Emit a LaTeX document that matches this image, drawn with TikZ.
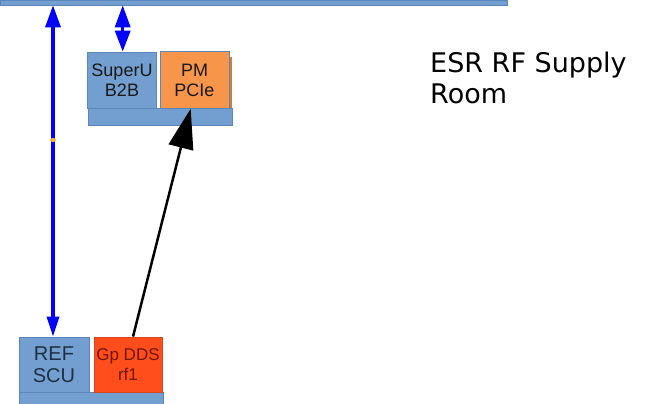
\documentclass[tikz,border=0pt]{standalone}
\usepackage{fontspec}
\setmainfont{Liberation Sans}
\newfontfamily\roomfont{DejaVu Sans}
\usetikzlibrary{arrows.meta,calc}

\definecolor{boxblue}{HTML}{729FCF}
\definecolor{boxedge}{HTML}{5A86BC}
\definecolor{barlight}{HTML}{A3BCDD}
\definecolor{pmorange}{HTML}{F7954A}
\definecolor{pmshade}{HTML}{C9803F}
\definecolor{ddsred}{HTML}{FF4E1C}
\definecolor{ddsedge}{HTML}{D8461C}
\definecolor{ddstext}{HTML}{6E1600}
\definecolor{reftext}{HTML}{1F3044}
\definecolor{linkblue}{HTML}{0000FF}
\definecolor{gluept}{HTML}{F2B632}

\tikzset{
  card/.style={rectangle, line width=0.8pt, inner sep=0pt, align=center,
    text=black!90},
  bluecard/.style={card, fill=boxblue, draw=boxedge},
  smalltxt/.style={font=\fontsize{18}{20}\selectfont},
  bigtxt/.style={font=\fontsize{20}{22}\selectfont},
  ddstxt/.style={font=\fontsize{17}{20}\selectfont},
  shelf/.style={rectangle, fill=boxblue, draw=boxedge, line width=0.6pt,
    inner sep=0pt, anchor=north west},
  bluelink/.style={draw=linkblue, line width=3.3pt},
  blacklink/.style={draw=black, line width=2.5pt,
    -{Triangle[length=40pt,width=25pt]}},
}

\begin{document}
\begin{tikzpicture}[x=1pt,y=-1pt]
  \useasboundingbox (0,0) rectangle (646,404);

  % backbone bar along the top edge
  \fill[barlight] (0,4.7) rectangle (183,6);
  \node[shelf, minimum width=507pt, minimum height=4.7pt] (bar) at (0,0) {};

  % upper crate: shelf, SuperU and PM cards
  \node[shelf, minimum width=144pt, minimum height=17pt] (shelfA) at (88,108) {};
  \fill[pmshade] (229,57) rectangle (232,108);
  \node[bluecard, smalltxt, minimum width=69pt, minimum height=56pt]
    (superu) at (122,80) {SuperU\\B2B};
  \node[card, smalltxt, fill=pmorange, draw=boxedge,
    minimum width=69pt, minimum height=57pt]
    (pm) at (194.5,80.3) {PM\\PCIe};

  % lower crate: shelf, REF SCU and Gp DDS cards
  \node[shelf, minimum width=144pt, minimum height=14pt] (shelfB) at (19,392) {};
  \node[bluecard, bigtxt, text=reftext, minimum width=70pt, minimum height=55pt]
    (refscu) at (54,364.5) {REF\\SCU};
  \node[card, ddstxt, fill=ddsred, draw=ddsedge, text=ddstext,
    minimum width=68pt, minimum height=55pt]
    (gpdds) at (128,364.5) {Gp DDS\\rf1};

  % room label (base anchor sits on the last line)
  \node[anchor=base west, inner sep=0pt, align=left,
    font=\roomfont\fontsize{27}{30.7}\selectfont]
    (room) at (430,103) {ESR RF Supply\\Room};

  % connectors
  \draw[bluelink, {Triangle[length=22pt,width=15pt]}-{Triangle[length=20pt,width=12pt]}]
    ([xshift=-1pt]refscu.north |- bar.south) -- ([xshift=-1pt]refscu.north);
  \draw[bluelink, {Triangle[length=22pt,width=15pt]}-{Triangle[length=21pt,width=15pt]}]
    ([xshift=0.7pt]superu.north |- bar.south) -- ([xshift=0.7pt]superu.north);
  \draw[blacklink] ([xshift=5pt]gpdds.north) -- ([xshift=-3.8pt,yshift=0.5pt]pm.south);

  % glue point on the long link
  \coordinate (glue) at ($([xshift=-1pt]refscu.north |- 0,140)$);
  \fill[gluept] (glue) ellipse (3pt and 2pt);
\end{tikzpicture}
\end{document}
